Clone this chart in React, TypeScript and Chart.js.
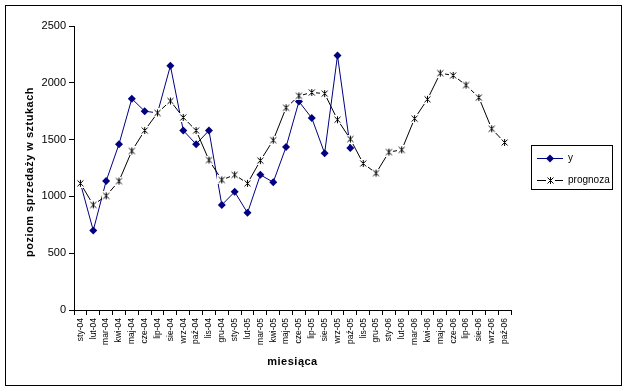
import React, { useEffect, useRef } from "react";
import { Chart, registerables } from "chart.js";

Chart.register(...registerables);

const categories = [
  "sty-04", "lut-04", "mar-04", "kwi-04", "maj-04", "cze-04", "lip-04", "sie-04", "wrz-04", "paź-04", "lis-04", "gru-04",
  "sty-05", "lut-05", "mar-05", "kwi-05", "maj-05", "cze-05", "lip-05", "sie-05", "wrz-05", "paź-05", "lis-05", "gru-05",
  "sty-06", "lut-06", "mar-06", "kwi-06", "maj-06", "cze-06", "lip-06", "sie-06", "wrz-06", "paź-06",
];

const yValues = [
  1115, 700, 1135, 1460, 1860, 1750, 1735, 2150, 1580, 1460, 1580, 925,
  1040, 855, 1190, 1125, 1435, 1835, 1690, 1380, 2240, 1425,
];

const prognozaValues = [
  1115, 925, 1005, 1135, 1400, 1580, 1735, 1840, 1695, 1580, 1320, 1145,
  1190, 1115, 1315, 1495, 1780, 1885, 1915, 1905, 1675, 1505, 1290, 1205,
  1390, 1410, 1685, 1855, 2085, 2065, 1980, 1870, 1595, 1475,
];

const yTicks = [0, 500, 1000, 1500, 2000, 2500];

const seriesNames = ["y", "prognoza"];
const yAxisTitle = "poziom sprzedaży w sztukach";
const xAxisTitle = "miesiąca";

const FONT = '"Liberation Sans", Arial, sans-serif';
const NAVY = "#000080";

function makeStar(): HTMLCanvasElement {
  const c = document.createElement("canvas");
  c.width = 9;
  c.height = 9;
  const g = c.getContext("2d")!;
  g.fillStyle = "#ffffff";
  g.fillRect(0, 0, 9, 9);
  g.strokeStyle = "#000000";
  g.lineWidth = 1;
  g.beginPath();
  g.moveTo(4.5, 1);
  g.lineTo(4.5, 8);
  g.moveTo(1.5, 1.5);
  g.lineTo(7.5, 7.5);
  g.moveTo(7.5, 1.5);
  g.lineTo(1.5, 7.5);
  g.stroke();
  return c;
}

export default function App() {
  const ref = useRef<HTMLCanvasElement | null>(null);

  useEffect(() => {
    document.body.style.margin = "0";
    const canvas = ref.current!;
    const star = makeStar();

    const decor = {
      id: "decor",
      afterDraw(chart: any) {
        const ctx = chart.ctx as CanvasRenderingContext2D;
        const area = chart.chartArea;
        ctx.save();
        ctx.strokeStyle = "#000";
        ctx.lineWidth = 1;
        ctx.strokeRect(5.5, 5.5, 616, 380);

        ctx.fillStyle = "#000";
        ctx.font = `bold 11px ${FONT}`;
        (ctx as any).letterSpacing = "0.5px";
        ctx.textAlign = "center";
        ctx.textBaseline = "middle";
        ctx.save();
        ctx.translate(30, (area.top + area.bottom) / 2 + 4);
        ctx.rotate(-Math.PI / 2);
        ctx.fillText(yAxisTitle, 0, 0);
        ctx.restore();
        ctx.fillText(xAxisTitle, (area.left + area.right) / 2, 362);
        (ctx as any).letterSpacing = "0px";

        const lx = 531.5, ly = 145.5, lw = 81, lh = 44;
        ctx.fillStyle = "#fff";
        ctx.fillRect(lx, ly, lw, lh);
        ctx.strokeStyle = "#000";
        ctx.strokeRect(lx, ly, lw, lh);
        const rows = [158.5, 180.5];
        ctx.strokeStyle = NAVY;
        ctx.beginPath();
        ctx.moveTo(537, rows[0]);
        ctx.lineTo(563, rows[0]);
        ctx.stroke();
        ctx.fillStyle = NAVY;
        ctx.beginPath();
        ctx.moveTo(550, rows[0] - 4);
        ctx.lineTo(554, rows[0]);
        ctx.lineTo(550, rows[0] + 4);
        ctx.lineTo(546, rows[0]);
        ctx.closePath();
        ctx.fill();
        ctx.strokeStyle = "#000";
        ctx.beginPath();
        ctx.moveTo(537, rows[1]);
        ctx.lineTo(563, rows[1]);
        ctx.stroke();
        ctx.drawImage(star, 546, rows[1] - 4.5);
        ctx.fillStyle = "#000";
        ctx.font = `10px ${FONT}`;
        ctx.textAlign = "left";
        ctx.textBaseline = "middle";
        ctx.fillText(seriesNames[0], 568, rows[0]);
        ctx.fillText(seriesNames[1], 568, rows[1]);
        ctx.restore();
      },
    };

    const chart = new Chart(canvas, {
      type: "line",
      data: {
        labels: categories,
        datasets: [
          {
            label: seriesNames[0],
            data: categories.map((_, i) => (i < yValues.length ? yValues[i] : null)),
            borderColor: NAVY,
            backgroundColor: NAVY,
            borderWidth: 1,
            pointStyle: "rectRot",
            pointRadius: 4,
            pointBorderWidth: 0,
            pointBackgroundColor: NAVY,
            tension: 0,
            order: 1,
          },
          {
            label: seriesNames[1],
            data: prognozaValues,
            borderColor: "#000",
            backgroundColor: "#000",
            borderWidth: 1,
            pointStyle: star as any,
            pointRadius: 4,
            tension: 0,
            order: 0,
          },
        ],
      },
      options: {
        responsive: false,
        animation: false,
        events: [],
        layout: { padding: { top: 26, right: 119, left: 0, bottom: 0 } },
        plugins: {
          legend: { display: false },
          tooltip: { enabled: false },
          title: { display: false },
        },
        scales: {
          x: {
            type: "category",
            offset: true,
            afterFit: (s: any) => {
              s.height = 82;
            },
            grid: {
              offset: true,
              drawOnChartArea: false,
              drawTicks: true,
              tickLength: 5,
              color: "#000",
            },
            border: { display: true, color: "#000", width: 1 },
            ticks: {
              autoSkip: false,
              maxRotation: 90,
              minRotation: 90,
              color: "#000",
              padding: 3,
              font: { family: FONT, size: 8.5 },
            },
          },
          y: {
            min: 0,
            max: 2500,
            afterFit: (s: any) => {
              s.width = 74;
            },
            afterBuildTicks: (s: any) => {
              s.ticks = yTicks.map((v) => ({ value: v }));
            },
            grid: {
              drawOnChartArea: false,
              drawTicks: true,
              tickLength: 5,
              color: "#000",
            },
            border: { display: true, color: "#000", width: 1 },
            ticks: {
              color: "#000",
              padding: 3,
              font: { family: FONT, size: 11 },
              callback: (v: any) => String(v),
            },
          },
        },
      },
      plugins: [decor],
    });

    return () => chart.destroy();
  }, []);

  return (
    <div style={{ width: 630, height: 392, background: "#fff" }}>
      <canvas ref={ref} width={630} height={392} style={{ display: "block" }} />
    </div>
  );
}
